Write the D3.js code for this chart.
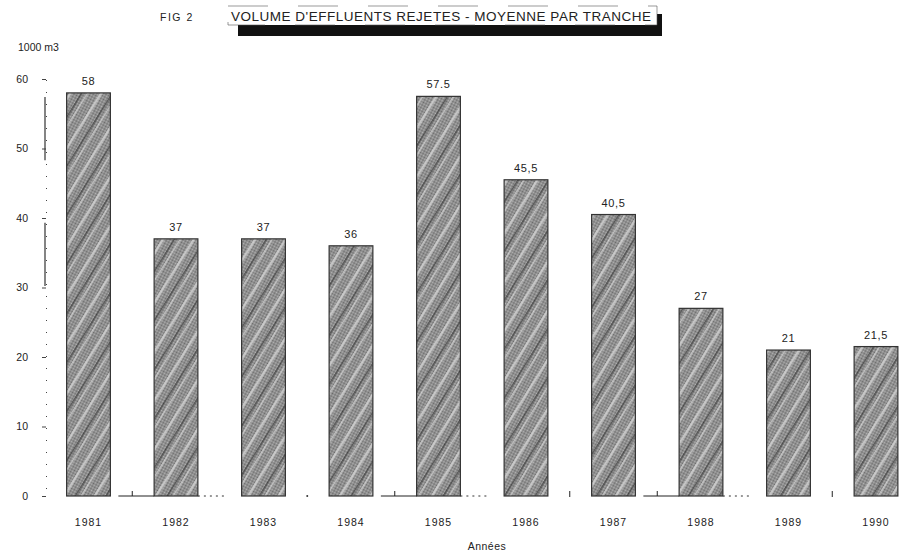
<!DOCTYPE html>
<html><head><meta charset="utf-8">
<script src="https://cdn.jsdelivr.net/npm/d3@7"></script>
<style>
body{margin:0;background:#fff;}
text{font-family:"Liberation Sans",Arial,sans-serif;fill:#222;}
</style></head>
<body><svg id="c" width="915" height="556"></svg>
<script>
const years = ["1981","1982","1983","1984","1985","1986","1987","1988","1989","1990"];
const volumes = [58, 37, 37, 36, 57.5, 45.5, 40.5, 27, 21, 21.5];
const valueLabels = ["58","37","37","36","57.5","45,5","40,5","27","21","21,5"];
const yTicks = [0,10,20,30,40,50,60];
const title = "VOLUME D'EFFLUENTS REJETES - MOYENNE PAR TRANCHE";
const figLabel = "FIG 2";
const yUnit = "1000 m3";
const xTitle = "Années";
const gapStyles = ["solid","dotted","dot","solid","dotted","tick","solid","dotted","tick"];

const svg = d3.select("#c");
const x = d3.scaleBand().domain(years).range([44.75, 919.75]).paddingInner(0.5).paddingOuter(0.25);
const y = d3.scaleLinear().domain([0, 60]).range([496, 79]);

// halftone-like pattern for bars
const defs = svg.append("defs");
const dots = defs.append("pattern").attr("id","dots").attr("patternUnits","userSpaceOnUse")
  .attr("width",2).attr("height",2);
dots.append("rect").attr("width",2).attr("height",2).attr("fill","#b4b4b4");
dots.append("rect").attr("width",1).attr("height",1).attr("fill","#6a6a6a");
dots.append("rect").attr("x",1).attr("y",1).attr("width",1).attr("height",1).attr("fill","#6a6a6a");
const pat = defs.append("pattern").attr("id","ht").attr("patternUnits","userSpaceOnUse")
  .attr("width",26).attr("height",26).attr("patternTransform","rotate(-58)");
pat.append("rect").attr("width",26).attr("height",26).attr("fill","url(#dots)");
pat.append("rect").attr("y",4).attr("width",26).attr("height",2.5).attr("fill","#d8d8d8").attr("opacity",0.75);
pat.append("rect").attr("y",14).attr("width",26).attr("height",1.5).attr("fill","#222").attr("opacity",0.55);
pat.append("rect").attr("y",19).attr("width",26).attr("height",1.5).attr("fill","#e6e6e6").attr("opacity",0.6);

// title
svg.append("text").attr("x",160).attr("y",21).attr("font-size",10.5).attr("letter-spacing",1.5).text(figLabel);
svg.append("rect").attr("x",238).attr("y",14).attr("width",424).attr("height",22).attr("fill","#111");
svg.append("rect").attr("x",228).attr("y",6).attr("width",429).attr("height",19).attr("fill","#fff")
  .attr("stroke","#555").attr("stroke-width",0.6).attr("stroke-dasharray","40,30");
svg.append("text").attr("x",231).attr("y",21).attr("font-size",13.5).attr("textLength",420).text(title);

// y unit label
svg.append("text").attr("x",18).attr("y",51).attr("font-size",10.5).text(yUnit);

// y axis
const yAxis = d3.axisLeft(y).tickValues(yTicks).tickSize(4).tickPadding(14);
const ga = svg.append("g").attr("transform","translate(46,0)").call(yAxis);
ga.select(".domain").attr("stroke","#444").attr("stroke-width",1).attr("stroke-dasharray","1,11");
ga.selectAll(".tick line").attr("stroke","#444");
ga.selectAll(".tick text").attr("font-size",10.5).attr("font-family","Liberation Sans, Arial, sans-serif").attr("fill","#222");
const axisSegs = [[48.3,57.4],[30.2,39.3]];
svg.selectAll(".aseg").data(axisSegs).enter().append("line")
  .attr("x1",45).attr("x2",45).attr("y1",d=>y(d[1])).attr("y2",d=>y(d[0]))
  .attr("stroke","#333").attr("stroke-width",1.2);

// bars
svg.selectAll(".bar").data(volumes).enter().append("rect")
  .attr("x",(d,i)=>x(years[i])).attr("y",d=>y(d))
  .attr("width",x.bandwidth()).attr("height",d=>y(0)-y(d))
  .attr("fill","url(#ht)").attr("stroke","#333").attr("stroke-width",1.2);

// value labels
svg.selectAll(".vl").data(valueLabels).enter().append("text")
  .attr("x",(d,i)=>x(years[i])+x.bandwidth()/2).attr("y",(d,i)=>y(volumes[i])-8)
  .attr("text-anchor","middle").attr("font-size",11).attr("letter-spacing",0.6).text(d=>d);

// baseline gaps
const gaps = gapStyles.map((s,i)=>({s, x1:x(years[i])+x.bandwidth(), x2:x(years[i+1])}));
gaps.forEach(g=>{
  const y0 = y(0), mid=(g.x1+g.x2)/2;
  if(g.s==="solid"){
    svg.append("line").attr("x1",g.x1+8).attr("x2",g.x2).attr("y1",y0).attr("y2",y0).attr("stroke","#222").attr("stroke-width",1.2);
    svg.append("line").attr("x1",mid).attr("x2",mid).attr("y1",y0-5).attr("y2",y0).attr("stroke","#222");
  } else if(g.s==="dotted"){
    svg.append("line").attr("x1",g.x1).attr("x2",g.x1+30).attr("y1",y0).attr("y2",y0).attr("stroke","#333").attr("stroke-dasharray","2,4");
  } else if(g.s==="dot"){
    svg.append("circle").attr("cx",mid).attr("cy",y0).attr("r",1).attr("fill","#333");
  } else {
    svg.append("line").attr("x1",mid).attr("x2",mid).attr("y1",y0-5).attr("y2",y0+1).attr("stroke","#222");
  }
});

// x labels
svg.selectAll(".xl").data(years).enter().append("text")
  .attr("x",d=>x(d)+x.bandwidth()/2).attr("y",526).attr("text-anchor","middle")
  .attr("font-size",10.5).attr("letter-spacing",1).text(d=>d);
svg.append("text").attr("x",487).attr("y",550).attr("text-anchor","middle").attr("font-size",10.5).attr("letter-spacing",0.5).text(xTitle);
</script></body></html>
